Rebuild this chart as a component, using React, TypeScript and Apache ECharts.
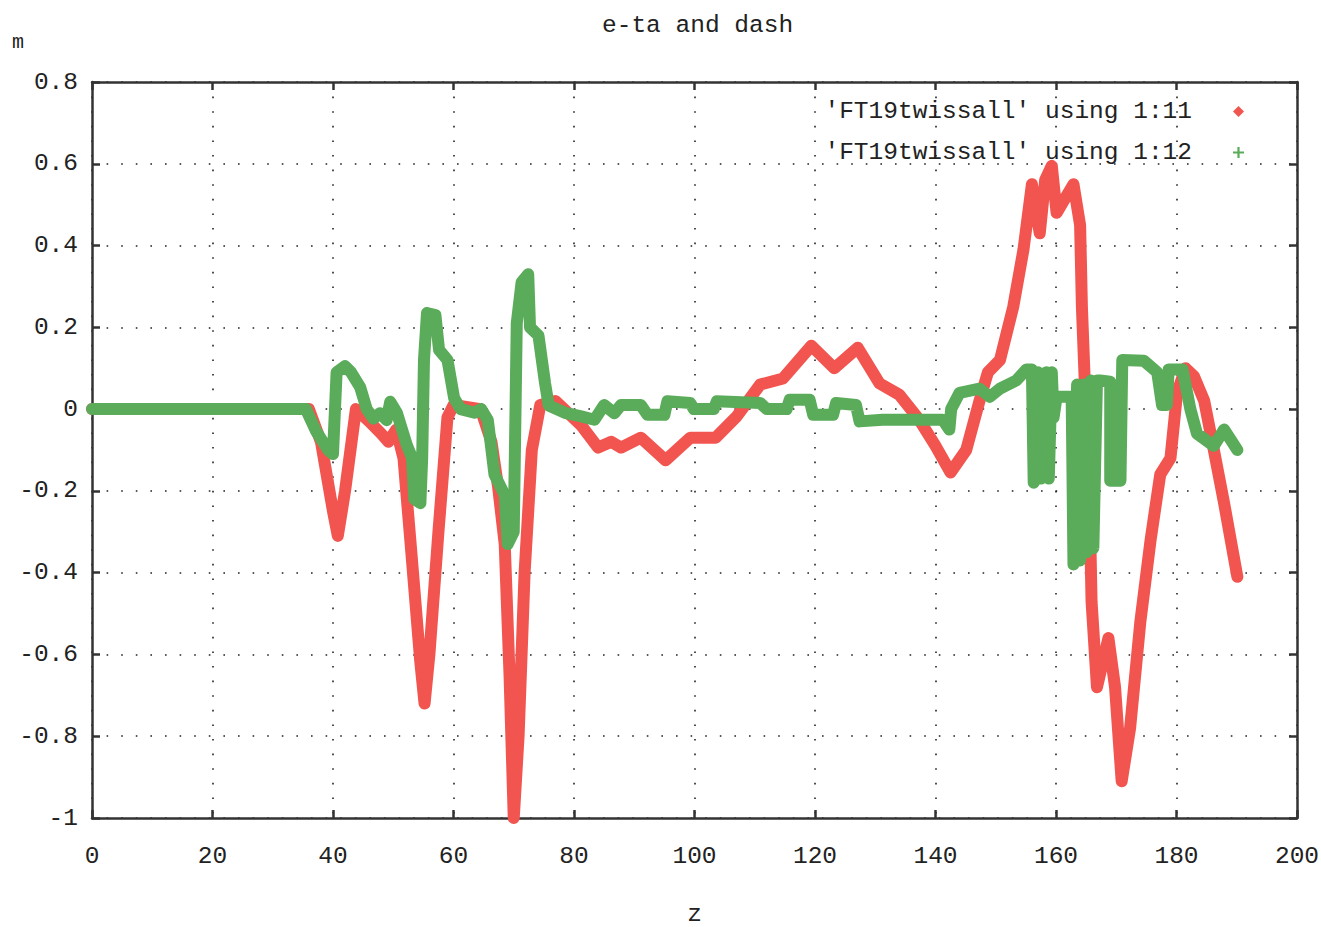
import React, { useEffect, useRef } from "react";
import * as echarts from "echarts";

const titleText = "e-ta and dash";
const seriesNames = ["'FT19twissall' using 1:11", "'FT19twissall' using 1:12"];
const xTicks = { min: 0, max: 200, interval: 20 };
const yTicks = { min: -1, max: 0.8, interval: 0.2 };

const redZ = [0, 36, 38, 40, 40.8, 42, 43.8, 46, 48, 49.2, 50.5, 51.7, 53, 54.5, 55.2, 56, 57.5, 59, 60, 64.5, 66.3, 67.4, 68.5, 69.3, 70, 70.8, 71.8, 73, 74.4, 76.9, 78, 81.2, 84, 86.2, 87.8, 91.1, 95.2, 99.3, 103.5, 107, 110.9, 114.7, 119.4, 123.2, 127.1, 130.7, 134, 137.3, 140, 142.5, 145.1, 147.3, 148.7, 150.7, 152.9, 154.6, 156, 157.3, 158.2, 159.3, 160.1, 162.9, 164, 164.3, 165.1, 165.7, 165.9, 166.8, 168.7, 169.8, 170.9, 172.3, 174, 175.7, 177.3, 179, 180.1, 181.5, 182.9, 184.6, 186.2, 187.9, 190.1];
const redM = [0, 0, -0.08, -0.25, -0.31, -0.2, 0, -0.03, -0.06, -0.08, -0.05, -0.12, -0.35, -0.62, -0.72, -0.6, -0.3, -0.02, 0.01, 0.0, -0.08, -0.19, -0.33, -0.65, -1.0, -0.8, -0.4, -0.1, 0.01, 0.02, 0.005, -0.04, -0.094, -0.08, -0.094, -0.07, -0.125, -0.07, -0.07, -0.018, 0.06, 0.075, 0.155, 0.1, 0.15, 0.063, 0.035, -0.026, -0.09, -0.155, -0.1, 0.02, 0.09, 0.12, 0.25, 0.39, 0.55, 0.43, 0.56, 0.595, 0.48, 0.55, 0.45, 0.25, -0.06, -0.32, -0.47, -0.68, -0.56, -0.68, -0.91, -0.78, -0.52, -0.32, -0.16, -0.12, 0.04, 0.1, 0.08, 0.02, -0.1, -0.23, -0.41];

const greenZ = [0, 35.5, 37.2, 39.2, 40, 40.6, 42, 43, 44.5, 45.6, 46.7, 47.8, 48.9, 49.5, 50.6, 52.3, 53.1, 53.5, 54.5, 54.8, 55.1, 55.6, 57, 57.6, 59, 60.1, 61.2, 63.5, 64.6, 65.7, 66.8, 68.5, 69, 70, 70.5, 71.3, 72.4, 72.7, 74.1, 75.2, 75.8, 78.5, 81.2, 83.4, 85, 86.7, 87.8, 91.1, 92.2, 95, 95.5, 99.3, 99.9, 103.2, 103.7, 110.9, 112, 115.3, 115.8, 119.1, 119.7, 123, 123.5, 126.8, 127.4, 131.2, 136.2, 141.2, 142.3, 142.6, 144, 147.3, 149, 150.7, 153.4, 155.1, 156, 156.3, 157, 157.5, 158.4, 158.8, 159.3, 159.6, 160.1, 162.6, 162.9, 163.5, 164, 164.6, 165.1, 165.8, 166.2, 166.8, 167.3, 169, 169, 170.7, 171, 174.6, 176.8, 177.6, 178.4, 178.7, 181, 182.3, 183.4, 186.2, 187.9, 190.1];
const greenM = [0, 0, -0.054, -0.1, -0.11, 0.09, 0.105, 0.09, 0.054, 0, -0.023, -0.01, -0.027, 0.018, -0.009, -0.09, -0.118, -0.22, -0.23, -0.12, 0.12, 0.235, 0.23, 0.145, 0.12, 0.027, 0, -0.009, 0, -0.027, -0.16, -0.21, -0.33, -0.3, 0.21, 0.31, 0.33, 0.2, 0.18, 0.063, 0.009, -0.009, -0.018, -0.026, 0.01, -0.01, 0.01, 0.01, -0.014, -0.014, 0.019, 0.015, 0, 0, 0.019, 0.015, 0, 0, 0.023, 0.023, -0.014, -0.014, 0.015, 0.01, -0.03, -0.026, -0.026, -0.026, -0.05, 0, 0.04, 0.05, 0.03, 0.05, 0.07, 0.097, 0.097, -0.18, 0.09, -0.17, 0.09, -0.17, 0.09, -0.02, 0.03, 0.03, -0.38, 0.06, -0.37, 0.06, -0.35, 0.07, -0.34, 0.07, 0.07, 0.067, -0.175, -0.175, 0.12, 0.118, 0.09, 0.01, 0.01, 0.097, 0.097, 0, -0.06, -0.09, -0.05, -0.1];

const RED = "#f2554f";
const GREEN = "#5aab5a";
const FONT = "'Liberation Mono', 'DejaVu Sans Mono', monospace";
const FS = 24.5;

const zip = (xs: number[], ys: number[]) => xs.map((x, i) => [x, ys[i]]);

export default function App() {
  const ref = useRef<HTMLDivElement>(null);
  useEffect(() => {
    if (!ref.current) return;
    const chart = echarts.init(ref.current, null, { renderer: "svg" });
    const dotted = { show: true, lineStyle: { color: "#222", width: 1.6, type: [1.6, 13] as any } };
    const frame = { show: true, onZero: false, lineStyle: { color: "#333", width: 2.5 } };
    const tick = { show: true, inside: true, length: 8, lineStyle: { color: "#333", width: 2.5 } };
    chart.setOption({
      animation: false,
      backgroundColor: "#fff",
      title: {
        text: titleText,
        left: 597,
        top: 8,
        textStyle: { fontFamily: FONT, fontSize: FS, fontWeight: "normal", color: "#222" },
      },
      legend: {
        orient: "vertical",
        right: 72,
        top: 94,
        align: "right",
        itemGap: 16,
        itemWidth: 11,
        itemHeight: 11,
        textStyle: { fontFamily: FONT, fontSize: FS, color: "#222", padding: [0, 36, 0, 0] },
        data: [
          { name: seriesNames[0], icon: "diamond" },
          { name: seriesNames[1], icon: "path://M4 0h2v4h4v2h-4v4h-2v-4h-4v-2h4z" },
        ],
      },
      grid: { left: 92, right: 24, top: 82, bottom: 109, containLabel: false, outerBoundsMode: "none" },
      xAxis: [
        {
          type: "value",
          min: xTicks.min,
          max: xTicks.max,
          interval: xTicks.interval,
          name: "z",
          nameLocation: "middle",
          nameGap: 84,
          nameTextStyle: { fontFamily: FONT, fontSize: FS, color: "#222" },
          axisLine: frame,
          axisTick: tick,
          axisLabel: { fontFamily: FONT, fontSize: FS, color: "#222", margin: 26 },
          splitLine: dotted,
        },
        {
          type: "value",
          position: "top",
          min: xTicks.min,
          max: xTicks.max,
          interval: xTicks.interval,
          axisLine: frame,
          axisTick: tick,
          axisLabel: { show: false },
          splitLine: { show: false },
        },
      ],
      yAxis: [
        {
          type: "value",
          min: yTicks.min,
          max: yTicks.max,
          interval: yTicks.interval,
          axisLine: frame,
          axisTick: tick,
          axisLabel: {
            fontFamily: FONT,
            fontSize: FS,
            color: "#222",
            margin: 14,
            formatter: (v: number) => String(+v.toFixed(1)),
          },
          splitLine: dotted,
        },
        {
          type: "value",
          position: "right",
          min: yTicks.min,
          max: yTicks.max,
          interval: yTicks.interval,
          axisLine: frame,
          axisTick: tick,
          axisLabel: { show: false },
          splitLine: { show: false },
        },
      ],
      graphic: [
        {
          type: "text",
          left: 12,
          top: 32,
          style: { text: "m", fontFamily: FONT, fontSize: 20, fill: "#222" },
        },
      ],
      series: [
        {
          name: seriesNames[0],
          type: "line",
          data: zip(redZ, redM),
          showSymbol: false,
          symbol: "none",
          itemStyle: { color: RED },
          lineStyle: { color: RED, width: 12, cap: "round", join: "round" },
          z: 2,
        },
        {
          name: seriesNames[1],
          type: "line",
          data: zip(greenZ, greenM),
          showSymbol: false,
          symbol: "none",
          itemStyle: { color: GREEN },
          lineStyle: { color: GREEN, width: 12, cap: "round", join: "round" },
          z: 3,
        },
      ],
    });
    return () => chart.dispose();
  }, []);
  return (
    <div
      ref={ref}
      style={{ position: "absolute", left: 0, top: 0, width: 1321, height: 927, background: "#fff" }}
    />
  );
}
